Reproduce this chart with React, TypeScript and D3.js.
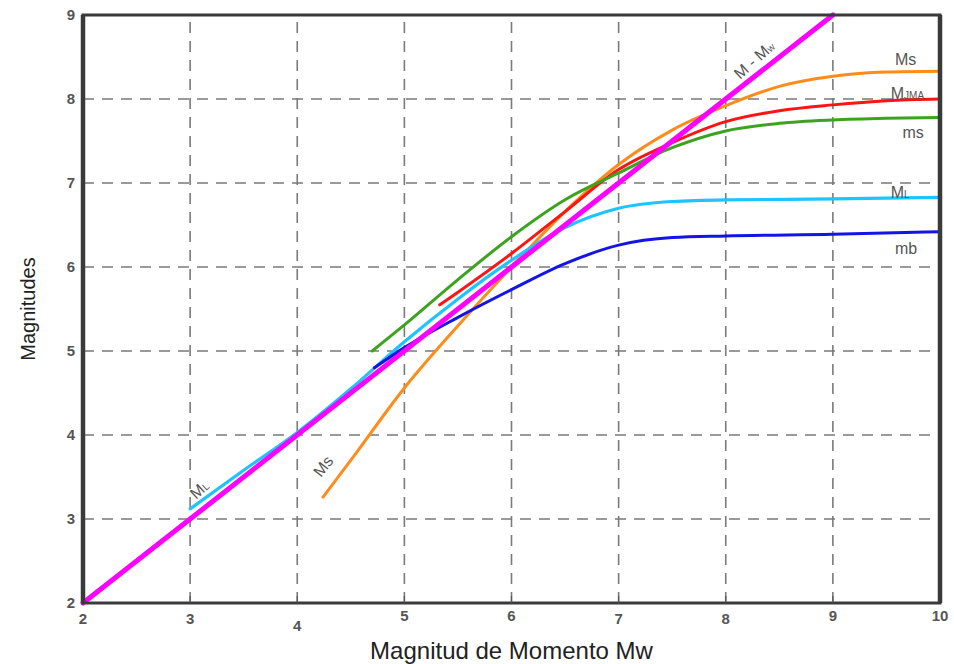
import React from 'react';
import * as d3 from 'd3';

// valores
const xTicks = [2, 3, 4, 5, 6, 7, 8, 9, 10];
const yTicks = [2, 3, 4, 5, 6, 7, 8, 9];

const mwRef = [2, 9];
const mRef = [2, 9];

const mwMs = [4.24, 4.5, 5, 5.5, 6, 6.5, 7, 7.5, 8, 8.5, 9, 9.5, 10];
const msVals = [3.26, 3.7, 4.56, 5.3, 6.0, 6.66, 7.22, 7.63, 7.92, 8.15, 8.27, 8.32, 8.33];

const mwJma = [5.33, 5.5, 6, 6.5, 7, 7.5, 8, 8.5, 9, 9.5, 10];
const jmaVals = [5.55, 5.7, 6.16, 6.66, 7.16, 7.48, 7.73, 7.86, 7.93, 7.98, 8.0];

const mwms = [4.7, 5, 5.5, 6, 6.5, 7, 7.5, 8, 8.5, 9, 9.5, 10];
const msSmall = [5.0, 5.31, 5.85, 6.36, 6.8, 7.12, 7.42, 7.62, 7.71, 7.75, 7.77, 7.78];

const mwMl = [3, 3.5, 4, 4.5, 5, 5.5, 6, 6.5, 7, 7.5, 8, 9, 10];
const mlVals = [3.12, 3.58, 4.03, 4.55, 5.11, 5.62, 6.08, 6.47, 6.7, 6.78, 6.8, 6.81, 6.83];

const mwMb = [4.72, 5, 5.5, 6, 6.5, 7, 7.5, 8, 9, 10];
const mbVals = [4.8, 5.04, 5.4, 5.73, 6.04, 6.26, 6.35, 6.37, 6.39, 6.42];

const W = 954, H = 664;
const margin = {left: 83, right: 14, top: 15, bottom: 61};

const x = d3.scaleLinear().domain([2, 10]).range([margin.left, W - margin.right]);
const y = d3.scaleLinear().domain([2, 9]).range([H - margin.bottom, margin.top]);

const zip = (a: number[], b: number[]) => a.map((v, i) => [v, b[i]] as [number, number]);

const line = d3.line<[number, number]>()
    .x(d => x(d[0]))
    .y(d => y(d[1]))
    .curve(d3.curveMonotoneX);

const series = [
    {pts: zip(mwMs, msVals), color: '#ff8c1a', w: 3},
    {pts: zip(mwJma, jmaVals), color: '#ff1414', w: 3},
    {pts: zip(mwms, msSmall), color: '#3ca31f', w: 3},
    {pts: zip(mwMl, mlVals), color: '#1ec4ff', w: 3.2},
    {pts: zip(mwMb, mbVals), color: '#1414e6', w: 3},
    {pts: zip(mwRef, mRef), color: '#ff00ff', w: 5},
];

// pequeños desplazamientos de las etiquetas del eje x como en el original escaneado
const xLabelDy: {[k: number]: number} = {4: 7, 5: -3, 6: -3, 9: -3, 10: -3};

const labelFont = 'Liberation Sans, Arial, sans-serif';

export default function App() {
    const [x0, x1] = x.range();
    const [y0, y1] = y.range();
    const gridStyle = {stroke: '#7a7a7a', strokeWidth: 1.6, strokeDasharray: '11 8'};
    return (
        <div style={{position: 'absolute', left: 0, top: 0}}>
            <svg width={W} height={H} style={{display: 'block', background: '#fff'}}>
                {/* grid */}
                {xTicks.slice(1, -1).map(t => (
                    <line key={'gx' + t} x1={x(t)} x2={x(t)} y1={y0} y2={y1} {...gridStyle} />
                ))}
                {yTicks.slice(1, -1).map(t => (
                    <line key={'gy' + t} x1={x0} x2={x1} y1={y(t)} y2={y(t)} {...gridStyle} />
                ))}

                {/* curvas */}
                {series.map((s, i) => (
                    <path key={i} d={line(s.pts) || ''} fill="none" stroke={s.color}
                          strokeWidth={s.w} strokeLinecap="round" strokeLinejoin="round" />
                ))}

                {/* marco */}
                <rect x={x0} y={y1} width={x1 - x0} height={y0 - y1} fill="none" stroke="#3a3a3a" strokeWidth={3} />
                <line x1={x0} x2={x0} y1={y1} y2={y0} stroke="#3a3a3a" strokeWidth={4.5} />
                <line x1={x1} x2={x1} y1={y1} y2={y0} stroke="#3a3a3a" strokeWidth={4.5} />
                {xTicks.slice(1, -1).map(t => (
                    <line key={'tk' + t} x1={x(t)} x2={x(t)} y1={y0} y2={y0 - 7} stroke="#555" strokeWidth={1.2} />
                ))}

                {/* etiquetas de ejes */}
                {xTicks.map(t => (
                    <text key={'xl' + t} x={x(t)} y={y0 + 21 + (xLabelDy[t] || 0)} textAnchor="middle"
                          fontFamily={labelFont} fontSize={15} fontWeight="bold" fill="#555">{t}</text>
                ))}
                {yTicks.map(t => (
                    <text key={'yl' + t} x={x0 - 8} y={y(t) + 5} textAnchor="end"
                          fontFamily={labelFont} fontSize={15} fontWeight="bold" fill="#555">{t}</text>
                ))}

                <text x={(x0 + x1) / 2} y={H - 5} textAnchor="middle" fontFamily={labelFont}
                      fontSize={24} fill="#222">Magnitud de Momento Mw</text>
                <text transform={`translate(35,${(y0 + y1) / 2}) rotate(-90)`} textAnchor="middle"
                      fontFamily={labelFont} fontSize={20} fill="#222">Magnitudes</text>

                {/* nombres de curvas */}
                <g fontFamily={labelFont} fontSize={16} fill="#555">
                    <text x={x(9.58)} y={y(8.4)}>Ms</text>
                    <text x={x(9.54)} y={y(8.0)}>M<tspan fontSize={10}>JMA</tspan></text>
                    <text x={x(9.65)} y={y(7.53)}>ms</text>
                    <text x={x(9.54)} y={y(6.82)}>M<tspan fontSize={10}>L</tspan></text>
                    <text x={x(9.58)} y={y(6.16)}>mb</text>
                    <text transform={`translate(740,80) rotate(-42)`}>M - M<tspan fontSize={10}>w</tspan></text>
                    <text transform={`translate(321,478) rotate(-52)`}>Ms</text>
                    <text transform={`translate(196,500) rotate(-42)`}>M<tspan fontSize={10}>L</tspan></text>
                </g>
            </svg>
        </div>
    );
}
